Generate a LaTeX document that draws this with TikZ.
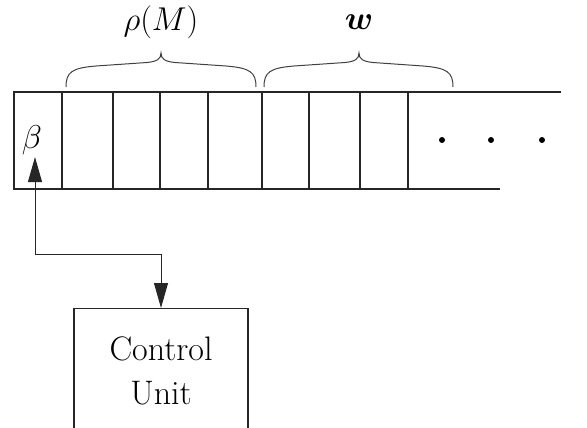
\RequirePackage{fix-cm}
\documentclass[tikz,border=0pt]{standalone}
\usepackage{amsmath}
\usepackage{bm}
\usetikzlibrary{arrows.meta}
% curly brace above the tape: left end, tip, right end (x positions)
\newcommand\tapebrace[3]{%
  \draw[bracestyle] (#1,87) .. controls (#1,72) and (#1+6,68) .. (#1+30,66)
    -- (#2-14,62.5) .. controls (#2-4,61.5) and (#2,59) .. (#2,53)
    .. controls (#2,59) and (#2+4,61.5) .. (#2+14,62.5)
    -- (#3-30,66) .. controls (#3-6,68) and (#3,72) .. (#3,87);}
\begin{document}
\begin{tikzpicture}[x=1pt,y=-1pt,
  tapeline/.style={line width=1.1pt, draw=black!85},
  bracestyle/.style={line width=1pt, draw=black!75},
  conn/.style={line width=1pt, draw=black!85,
    {Triangle[length=25pt,width=14pt]}-{Triangle[length=25pt,width=14pt]}},
  unitbox/.style={draw=black!85, line width=1.1pt, minimum width=174pt,
    minimum height=124pt, align=center, inner sep=0pt,
    font=\fontsize{34}{44}\selectfont},
  sym/.style={inner sep=0pt, font=\fontsize{33}{40}\selectfont}]

  % page area
  \clip (0,0) rectangle (587,428);

  % tape: open on the right
  \draw[tapeline] (561,92) -- (14,92) -- (14,189) -- (500,189);
  \foreach \x in {62,113,160,208,262,309,360,408}
    \draw[tapeline] (\x,92) -- (\x,189);

  % continuation dots
  \foreach \x in {442,491,542}
    \fill (\x,140) circle (3pt);

  % head symbol in the first cell
  \node[sym, anchor=base] (beta) at (32,149) {$\beta$};

  % braces over the tape segments and their labels
  \tapebrace{66}{161}{256}
  \tapebrace{264}{359}{453}
  \node[sym, anchor=base] (rho) at (161,31) {$\rho(M)$};
  \node[sym, anchor=base] (word) at (359,30) {$\bm{w}$};

  % control unit
  \node[unitbox, anchor=north] (cu) at (161,308) {Control\\Unit};

  % read/write link between head cell and control unit
  \coordinate (tip) at (35,157);
  \coordinate (elbow) at (35,254);
  \draw[conn] (tip) -- (elbow) -| (cu.north);
\end{tikzpicture}
\end{document}
